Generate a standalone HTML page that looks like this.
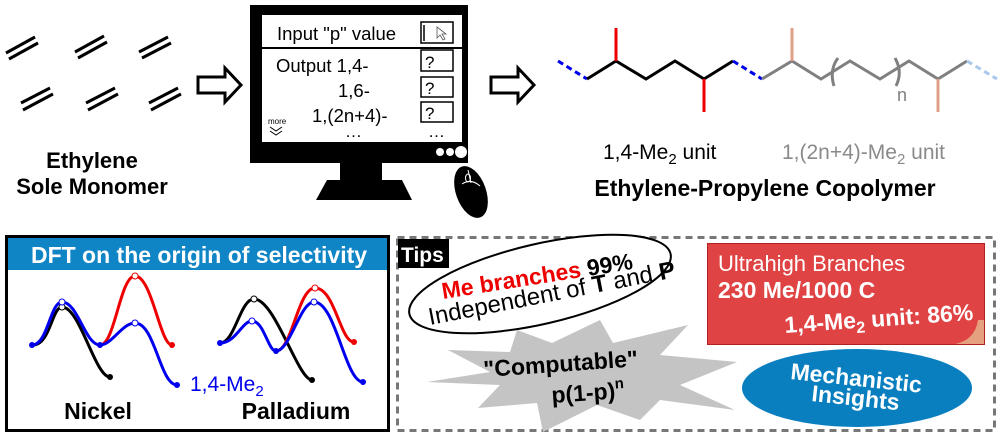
<!DOCTYPE html>
<html><head><meta charset="utf-8"><style>
html,body{margin:0;padding:0;background:#fff;}
svg{display:block;}
text{font-family:"Liberation Sans",Arial,sans-serif;}
</style></head><body>
<svg width="1003" height="439" viewBox="0 0 1003 439" xmlns="http://www.w3.org/2000/svg">
<!-- ethylene -->
<g stroke="#000" stroke-width="3">
<line x1="6" y1="53" x2="35" y2="37"/><line x1="9" y1="59" x2="38" y2="43"/>
<line x1="75" y1="52" x2="104" y2="36"/><line x1="78" y1="58" x2="107" y2="42"/>
<line x1="139" y1="52" x2="168" y2="37"/><line x1="142" y1="58" x2="171" y2="43"/>
<line x1="21" y1="103" x2="50" y2="88"/><line x1="23" y1="110" x2="53" y2="94"/>
<line x1="86" y1="103" x2="115" y2="88"/><line x1="88" y1="110" x2="118" y2="94"/>
<line x1="149" y1="103" x2="178" y2="88"/><line x1="151" y1="110" x2="181" y2="94"/>
</g>
<text x="92" y="168" font-size="22" font-weight="bold" text-anchor="middle">Ethylene</text>
<text x="92" y="194" font-size="22" font-weight="bold" text-anchor="middle">Sole Monomer</text>
<!-- arrows -->
<polygon points="198,77 225,77 225,68 241,85 225,102 225,93 198,93" fill="#fff" stroke="#000" stroke-width="3"/>
<polygon points="491,77 518,77 518,68 534,85 518,102 518,93 491,93" fill="#fff" stroke="#000" stroke-width="3"/>
<!-- monitor -->
<rect x="250" y="5" width="218" height="158" fill="#000"/>
<rect x="262" y="15" width="200" height="127" fill="#fff"/>
<line x1="262" y1="48" x2="462" y2="48" stroke="#000" stroke-width="2"/>
<text x="277" y="40" font-size="18.5">Input "p" value</text>
<rect x="421" y="22" width="32" height="21" fill="#fff" stroke="#000" stroke-width="1.5"/>
<line x1="424" y1="25" x2="424" y2="41" stroke="#000" stroke-width="1.5"/>
<path d="M437 27 L437 38 L440 35 L443 40 L445 39 L442 34 L446 34 Z" fill="#fff" stroke="#555" stroke-width="0.8"/>
<text x="276" y="72" font-size="18.5">Output 1,4-</text>
<text x="338" y="97" font-size="18.5">1,6-</text>
<text x="312" y="122" font-size="18.5">1,(2n+4)-</text>
<text x="345" y="137" font-size="17">…</text>
<text x="428" y="137" font-size="17">…</text>
<rect x="421" y="50" width="32" height="21" fill="#fff" stroke="#000" stroke-width="1.5"/>
<rect x="421" y="77" width="32" height="20" fill="#fff" stroke="#000" stroke-width="1.5"/>
<rect x="421" y="102" width="32" height="20" fill="#fff" stroke="#000" stroke-width="1.5"/>
<text x="425" y="68" font-size="17">?</text><text x="425" y="94" font-size="17">?</text><text x="425" y="119" font-size="17">?</text>
<text x="268" y="124" font-size="8">more</text>
<path d="M270 127 L276 131 L282 127 M270 131 L276 135 L282 131" fill="none" stroke="#000" stroke-width="1"/>
<circle cx="440" cy="152" r="4" fill="#fff"/><circle cx="450" cy="152" r="4" fill="#fff"/><circle cx="461" cy="152" r="6" fill="#fff"/>
<rect x="340" y="162" width="42" height="19" fill="#000"/>
<polygon points="327,180 402,180 412,200 316,200" fill="#000"/>
<ellipse cx="471" cy="192" rx="15" ry="27" transform="rotate(-20 471 192)" fill="#000"/>
<path d="M462 184 Q471 178 480 186" fill="none" stroke="#fff" stroke-width="1"/>
<line x1="468" y1="170" x2="471" y2="183" stroke="#fff" stroke-width="1"/>
<ellipse cx="468" cy="178" rx="2.5" ry="4" fill="none" stroke="#fff" stroke-width="1"/>
<!-- polymer -->
<line x1="558" y1="61" x2="587" y2="79" stroke="#0000ee" stroke-width="3" stroke-dasharray="6,4"/>
<polyline points="587,79 616,61 646,79 675,61 704,79 733,61" fill="none" stroke="#000" stroke-width="3"/>
<line x1="616" y1="28" x2="616" y2="61" stroke="#ee0000" stroke-width="3"/>
<line x1="704" y1="79" x2="704" y2="112" stroke="#ee0000" stroke-width="3"/>
<line x1="733" y1="61" x2="762" y2="79" stroke="#0000ee" stroke-width="3" stroke-dasharray="6,4"/>
<polyline points="762,79 792,61 821,79 850,61 880,79 909,61 938,79 967,61" fill="none" stroke="#808080" stroke-width="3"/>
<line x1="792" y1="28" x2="792" y2="61" stroke="#e0a088" stroke-width="3"/>
<line x1="938" y1="79" x2="938" y2="112" stroke="#e0a088" stroke-width="3"/>
<line x1="967" y1="61" x2="997" y2="79" stroke="#a8c8ec" stroke-width="3" stroke-dasharray="6,4"/>
<path d="M838 58 Q829 70 834 86" fill="none" stroke="#808080" stroke-width="3"/>
<path d="M895 58 Q903 72 896 86" fill="none" stroke="#808080" stroke-width="3"/>
<text x="897" y="101" font-size="18" fill="#808080">n</text>
<text x="603" y="159" font-size="21">1,4-Me<tspan font-size="15" dy="5">2</tspan><tspan dy="-5"> unit</tspan></text>
<text x="782" y="159" font-size="21" fill="#8a8a8a">1,(2n+4)-Me<tspan font-size="15" dy="5">2</tspan><tspan dy="-5"> unit</tspan></text>
<text x="765" y="196" font-size="23" font-weight="bold" text-anchor="middle">Ethylene-Propylene Copolymer</text>
<!-- DFT box -->
<rect x="6.5" y="236.5" width="382" height="194" fill="#fff" stroke="#000" stroke-width="3"/>
<rect x="8" y="238" width="379" height="32" fill="#0f85c5"/>
<text x="199" y="263" font-size="23" font-weight="bold" fill="#fff" text-anchor="middle">DFT on the origin of selectivity</text>
<g fill="none" stroke-width="3">
<path d="M33 345 C50 345 52 307 62 307 C80 307 95 377 110 377" stroke="#000"/>
<path d="M100 345 C115 345 120 276 135 276 C152 276 160 345 172 345" stroke="#ee0000"/>
<path d="M32 345 C48 345 50 302 62 302 C78 302 85 345 100 345 C112 345 122 323 135 323 C155 323 160 385 177 385" stroke="#0000ee"/>
<path d="M220 343 C235 343 240 299 254 299 C275 299 298 380 312 380" stroke="#000"/>
<path d="M276 351 C292 351 298 288 315 288 C335 288 340 342 354 342" stroke="#ee0000"/>
<path d="M220 343 C236 343 242 321 252 321 C264 321 268 351 276 351 C290 351 300 302 314 302 C336 302 345 382 363 382" stroke="#0000ee"/>
</g>
<g stroke-width="1" fill="#fff">
<circle cx="62" cy="307" r="3" stroke="#000"/><circle cx="62" cy="302" r="3" stroke="#0000ee"/>
<circle cx="135" cy="276" r="3" stroke="#ee0000"/><circle cx="135" cy="323" r="3" stroke="#0000ee"/>
<circle cx="254" cy="299" r="3" stroke="#000"/><circle cx="252" cy="321" r="3" stroke="#0000ee"/>
<circle cx="315" cy="288" r="3" stroke="#ee0000"/><circle cx="314" cy="302" r="3" stroke="#0000ee"/>
</g>
<circle cx="32" cy="345" r="3" fill="#0000ee"/><circle cx="110" cy="377" r="3" fill="#000"/><circle cx="172" cy="345" r="3" fill="#ee0000"/><circle cx="177" cy="385" r="3" fill="#0000ee"/><circle cx="100" cy="345" r="3" fill="#0000ee"/>
<circle cx="220" cy="343" r="3" fill="#0000ee"/><circle cx="312" cy="380" r="3" fill="#000"/><circle cx="354" cy="342" r="3" fill="#ee0000"/><circle cx="363" cy="382" r="3" fill="#0000ee"/><circle cx="276" cy="351" r="3" fill="#0000ee"/>
<text x="190" y="391" font-size="21" fill="#0000ee">1,4-Me<tspan font-size="15" dy="5">2</tspan></text>
<text x="98" y="419" font-size="23" font-weight="bold" text-anchor="middle">Nickel</text>
<text x="296" y="419" font-size="23" font-weight="bold" text-anchor="middle">Palladium</text>
<!-- Tips box -->
<rect x="397.5" y="237.5" width="597" height="193" fill="none" stroke="#777" stroke-width="3" stroke-dasharray="7,5"/>
<rect x="398" y="239" width="51" height="29" fill="#000"/>
<text x="401" y="262" font-size="21" font-weight="bold" fill="#fff">Tips</text>
<ellipse cx="540" cy="284" rx="134" ry="40" transform="rotate(-13 540 284)" fill="#fff" stroke="#000" stroke-width="2"/>
<text transform="translate(443 299) rotate(-9)" font-size="23" font-weight="bold"><tspan fill="#ee0000">Me branches</tspan> 99%</text>
<text transform="translate(430 325) rotate(-11)" font-size="24">Independent of <tspan font-weight="bold">T</tspan> and <tspan font-weight="bold">P</tspan></text>
<polygon points="427,382 490,372 448,350 510,352 517,330 552,343 600,320 613,343 688,325 660,355 737,362 680,385 735,410 660,400 640,420 597,405 543,432 537,403 478,408 500,385" fill="#c4c4c4"/>
<text transform="translate(484 377) rotate(-4)" font-size="23" font-weight="bold">"Computable"</text>
<text transform="translate(552 403) rotate(-4)" font-size="23" font-weight="bold">p(1-p)<tspan font-size="15" dy="-10">n</tspan></text>
<rect x="707.5" y="243.5" width="277" height="101" fill="#e04343" stroke="#b02020" stroke-width="1"/>
<path d="M955 344 Q975 340 978 320 L984 320 L984 344 Z" fill="#e5a080"/>
<text x="718" y="271" font-size="22" fill="#fff">Ultrahigh Branches</text>
<text x="718" y="298" font-size="23" font-weight="bold" fill="#fff">230 Me/1000 C</text>
<text transform="translate(785 333) rotate(-4)" font-size="23" font-weight="bold" fill="#fff">1,4-Me<tspan font-size="16" dy="5">2</tspan><tspan dy="-5"> unit: 86%</tspan></text>
<ellipse cx="857" cy="388" rx="115" ry="39" fill="#0a7fc0"/>
<text transform="translate(790 379) rotate(6)" font-size="23" font-weight="bold" fill="#fff">Mechanistic</text>
<text transform="translate(811 401) rotate(6)" font-size="23" font-weight="bold" fill="#fff">Insights</text>
</svg>
</body></html>
